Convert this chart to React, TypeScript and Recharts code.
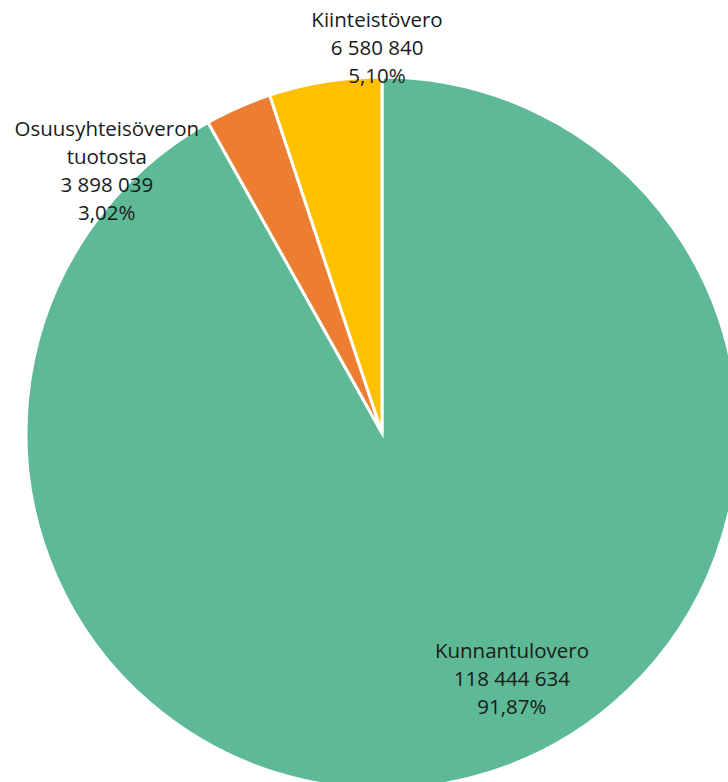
import React from "react";
import { PieChart, Pie, Cell } from "recharts";

const names = ["Kunnantulovero", "Osuusyhteisöveron tuotosta", "Kiinteistövero"];
const nameLines = [["Kunnantulovero"], ["Osuusyhteisöveron", "tuotosta"], ["Kiinteistövero"]];
const values = [118444634, 3898039, 6580840];
const valueLabels = ["118 444 634", "3 898 039", "6 580 840"];
const percentLabels = ["91,87%", "3,02%", "5,10%"];
const colors = ["#5DB996", "#ED7D31", "#FFC000"];

// label placement: [dx, dy] as fractions of the outer radius, relative to centre
const labelOffsets: [number, number][] = [
  [0.365, 0.689],
  [-0.773, -0.74],
  [-0.014, -1.083],
];

const data = names.map((n, i) => ({ name: n, value: values[i] }));

const LINE = 28;

const renderLabel = (props: any) => {
  const { cx, cy, outerRadius, index } = props;
  const [fx, fy] = labelOffsets[index];
  const x = cx + fx * outerRadius;
  const lines = [...nameLines[index], valueLabels[index], percentLabels[index]];
  const cyText = cy + fy * outerRadius;
  const top = cyText - ((lines.length - 1) * LINE) / 2;
  return (
    <text
      x={x}
      y={top}
      textAnchor="middle"
      dominantBaseline="central"
      fill="#1a1a1a"
      fontSize={20.5}
      fontFamily="'Open Sans', 'Liberation Sans', sans-serif"
    >
      {lines.map((l, i) => (
        <tspan key={i} x={x} y={top + i * LINE}>
          {l}
        </tspan>
      ))}
    </text>
  );
};

export default function App() {
  return (
    <div style={{ width: 728, height: 782, background: "#fff", overflow: "hidden" }}>
      <style>{"html,body{margin:0;padding:0;overflow:hidden;background:#fff}"}</style>
      <PieChart width={728} height={782} margin={{ top: 0, right: 0, bottom: 0, left: 0 }}>
        <Pie
          data={data}
          dataKey="value"
          nameKey="name"
          cx={382}
          cy={433}
          outerRadius={356}
          innerRadius={0}
          startAngle={90}
          endAngle={-270}
          stroke="#ffffff"
          strokeWidth={3}
          label={renderLabel}
          labelLine={false}
          isAnimationActive={false}
        >
          {data.map((d, i) => (
            <Cell key={d.name} fill={colors[i]} />
          ))}
        </Pie>
      </PieChart>
    </div>
  );
}
